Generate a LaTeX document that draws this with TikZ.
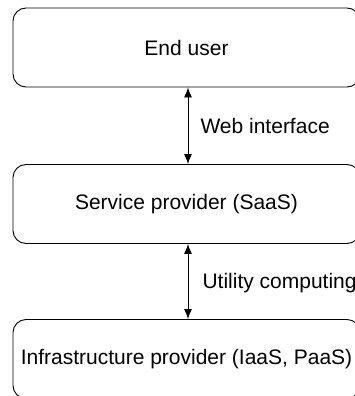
\documentclass[tikz,border=0pt]{standalone}
\usepackage{fontspec}
\setmainfont{Liberation Sans}
\usetikzlibrary{arrows.meta}
\begin{document}
\begin{tikzpicture}[x=1pt, y=-1pt, font=\fontsize{21}{25}\selectfont, >={Latex[length=10pt,width=8pt]},
    layer/.style={draw, rounded corners=13pt, line width=0.9pt, minimum width=347pt, minimum height=79pt, inner sep=0pt},
    link/.style={<->, line width=0.9pt}]
    \useasboundingbox (0,0) rectangle (354,396);

    \foreach \N/\Y/\T in { user/47.5/{End user},
                           saas/204/{Service provider (SaaS)},
                           iaas/359/{Infrastructure provider (IaaS, PaaS)}
        } {
        \node[layer](\N) at (186.5,\Y) {\T};
        }

        \node[anchor=west](web) at (197,126) {Web interface};
        \node[anchor=west](utility) at (199,283) {Utility computing};

        \draw[link] (user.south -| 188,0) -- (saas.north -| 188,0);
        \draw[link] (saas.south -| 188,0) -- (iaas.north -| 188,0);
\end{tikzpicture}
\end{document}
